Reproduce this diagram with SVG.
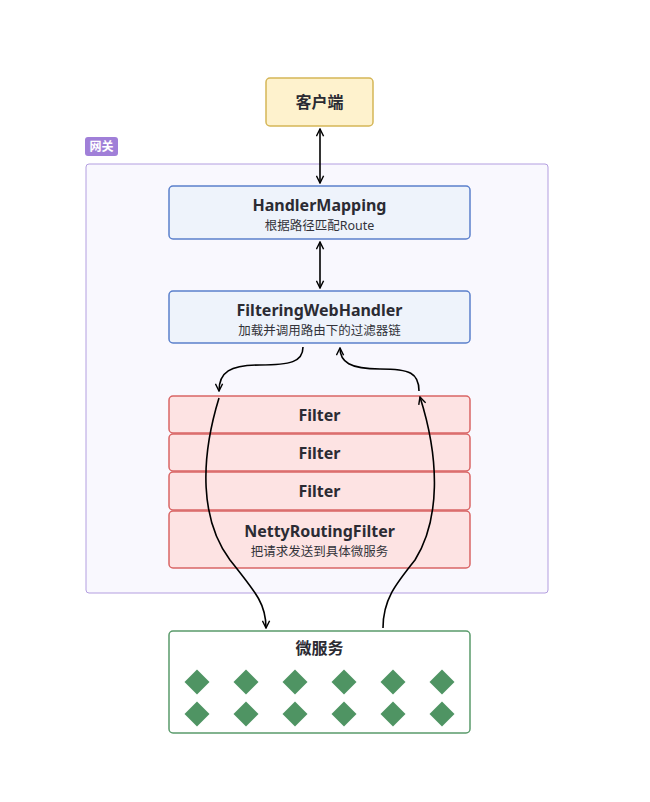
<svg xmlns="http://www.w3.org/2000/svg" width="650" height="802" viewBox="0 0 650 802">
<defs>
<style>
.t{font-family:"Noto Sans","Noto Sans CJK SC",sans-serif;font-weight:700;font-size:16px;fill:#2b2b33;text-anchor:middle}
.s{font-family:"Noto Sans","Noto Sans CJK SC",sans-serif;font-size:12.5px;fill:#33333a;text-anchor:middle}
.blue{fill:#eef3fb;stroke:#5b80cc;stroke-width:1.5}
.red{fill:#fde3e3;stroke:#d96565;stroke-width:1.5}
.c{fill:none;stroke:#000;stroke-width:1.6}
.d{fill:#4f9463}
</style>
<marker id="ah" viewBox="0 0 10 10" refX="9" refY="5" markerWidth="9" markerHeight="9" orient="auto-start-reverse" markerUnits="userSpaceOnUse">
<path d="M1,1 L9,5 L1,9" fill="none" stroke="#000" stroke-width="1.6"/>
</marker>
</defs>
<rect width="650" height="802" fill="#fff"/>
<g id="gateway">
<rect x="86" y="164" width="462" height="429" rx="3" fill="#f9f8fe" stroke="#b39ee0" stroke-width="1"/>
<rect x="85" y="137" width="33" height="19" rx="3" fill="#a07fd8"/>
<text x="101.5" y="151" font-family="'Noto Sans CJK SC',sans-serif" font-size="12" font-weight="700" fill="#fff" text-anchor="middle">网关</text>
</g>
<g id="client">
<rect x="266" y="78" width="107" height="48" rx="4" fill="#fef2cd" stroke="#d5b657" stroke-width="1.5"/>
<text class="t" x="319.5" y="108">客户端</text>
</g>
<g id="handlerMapping">
<rect class="blue" x="169" y="186" width="301" height="53" rx="4"/>
<text class="t" x="319.5" y="211">HandlerMapping</text>
<text class="s" x="319.5" y="230">根据路径匹配Route</text>
</g>
<g id="filteringWebHandler">
<rect class="blue" x="169" y="291" width="301" height="52" rx="4"/>
<text class="t" x="319.5" y="316">FilteringWebHandler</text>
<text class="s" x="319.5" y="335">加载并调用路由下的过滤器链</text>
</g>
<g id="filter1">
<rect class="red" x="169" y="396" width="301" height="37" rx="4"/>
<text class="t" x="319.5" y="421">Filter</text>
</g>
<g id="filter2">
<rect class="red" x="169" y="434" width="301" height="37" rx="4"/>
<text class="t" x="319.5" y="459">Filter</text>
</g>
<g id="filter3">
<rect class="red" x="169" y="472" width="301" height="38" rx="4"/>
<text class="t" x="319.5" y="497">Filter</text>
</g>
<g id="nettyRoutingFilter">
<rect class="red" x="169" y="511" width="301" height="57" rx="4"/>
<text class="t" x="319.5" y="537">NettyRoutingFilter</text>
<text class="s" x="319.5" y="556">把请求发送到具体微服务</text>
</g>
<g id="microservices">
<rect x="169" y="631" width="301" height="102" rx="4" fill="#fff" stroke="#5a9b6b" stroke-width="1.5"/>
<text class="t" x="319.5" y="654">微服务</text>
<g class="d">
<path d="M197,669.5 L209.5,682 L197,694.5 L184.5,682Z"/>
<path d="M246,669.5 L258.5,682 L246,694.5 L233.5,682Z"/>
<path d="M295,669.5 L307.5,682 L295,694.5 L282.5,682Z"/>
<path d="M344,669.5 L356.5,682 L344,694.5 L331.5,682Z"/>
<path d="M393,669.5 L405.5,682 L393,694.5 L380.5,682Z"/>
<path d="M442,669.5 L454.5,682 L442,694.5 L429.5,682Z"/>
<path d="M197,701.5 L209.5,714 L197,726.5 L184.5,714Z"/>
<path d="M246,701.5 L258.5,714 L246,726.5 L233.5,714Z"/>
<path d="M295,701.5 L307.5,714 L295,726.5 L282.5,714Z"/>
<path d="M344,701.5 L356.5,714 L344,726.5 L331.5,714Z"/>
<path d="M393,701.5 L405.5,714 L393,726.5 L380.5,714Z"/>
<path d="M442,701.5 L454.5,714 L442,726.5 L429.5,714Z"/>
</g>
</g>
<g id="connectors">
<path class="c" d="M320,129 L320,183" marker-start="url(#ah)" marker-end="url(#ah)"/>
<path class="c" d="M320,242 L320,288" marker-start="url(#ah)" marker-end="url(#ah)"/>
<path class="c" d="M303,347 C303,362 290,365 260,365 C230,365 219,372 219,391" marker-end="url(#ah)"/>
<path class="c" d="M219,398 C200,460 200,520 230,560 C258,595 266,605 266,628" marker-end="url(#ah)"/>
<path class="c" d="M383,628 C383,600 395,585 415,560 C440,520 440,460 420,397" marker-end="url(#ah)"/>
<path class="c" d="M419,391 C419,373 410,369 380,369 C350,369 340,362 340,348" marker-end="url(#ah)"/>
</g>
</svg>
